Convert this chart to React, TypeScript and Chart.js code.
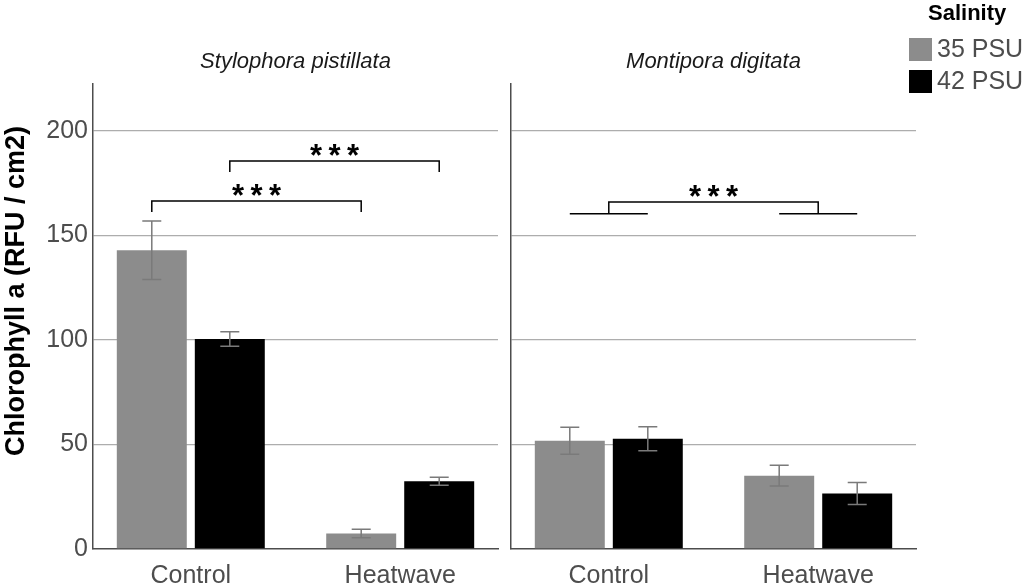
import React, { useEffect, useRef } from "react";
import { Chart, registerables } from "chart.js";

Chart.register(...registerables);

// Treatments on the x axis, salinity groups as series
const categories = ["Control", "Heatwave"];
const seriesNames = ["35 PSU", "42 PSU"];
const seriesColors = ["#8c8c8c", "#000000"];
const speciesNames = ["Stylophora pistillata", "Montipora digitata"];

// Chlorophyll a means (RFU / cm2) and standard errors
const stylo35 = [143, 7.4];
const stylo35Err = [14, 2];
const stylo42 = [100.5, 32.4];
const stylo42Err = [3.5, 1.9];
const monti35 = [51.8, 35.1];
const monti35Err = [6.5, 5];
const monti42 = [52.8, 26.6];
const monti42Err = [5.75, 5.25];

const yTicks = [0, 50, 100, 150, 200];
const yMax = 222.5;

// Significance brackets: pairwise (bar to bar) or between treatment groups
const styloBrackets = [
  { kind: "pair", from: [0, 0], to: [0, 1], top: 166.5, foot: 161.2, label: "***" },
  { kind: "pair", from: [1, 0], to: [1, 1], top: 185.6, foot: 180.4, label: "***" },
];
const montiBrackets = [
  { kind: "group", from: [0, 0], to: [0, 1], top: 166, foot: 160.4, label: "***" },
];

type Panel = {
  title: string;
  values: number[][];
  errors: number[][];
  brackets: typeof styloBrackets;
};

const panels: Panel[] = [
  { title: speciesNames[0], values: [stylo35, stylo42], errors: [stylo35Err, stylo42Err], brackets: styloBrackets },
  { title: speciesNames[1], values: [monti35, monti42], errors: [monti35Err, monti42Err], brackets: montiBrackets },
];

const FONT = "'Liberation Sans', Arial, Helvetica, sans-serif";
const TEXT_GREY = "#4d4d4d";
const AXIS_GREY = "#4d4d4d";
const GRID_GREY = "#adadad";
const ERR_GREY = "#7a7a7a";

function drawStars(ctx: CanvasRenderingContext2D, label: string, cx: number, cy: number) {
  ctx.save();
  ctx.fillStyle = "#000";
  ctx.font = `bold 31px ${FONT}`;
  ctx.textAlign = "center";
  ctx.textBaseline = "alphabetic";
  const m = ctx.measureText("*");
  const off = (m.actualBoundingBoxAscent - m.actualBoundingBoxDescent) / 2;
  const n = label.length;
  const gap = 18.5;
  for (let k = 0; k < n; k++) {
    const x = cx + (k - (n - 1) / 2) * gap;
    ctx.fillText("*", x, cy + off);
  }
  ctx.restore();
}

function makeOverlay(panel: Panel, index: number) {
  return {
    id: "overlay" + index,
    afterDatasetsDraw(chart: any) {
      const ctx: CanvasRenderingContext2D = chart.ctx;
      const y = chart.scales.y;
      ctx.save();
      // error bars
      ctx.strokeStyle = ERR_GREY;
      ctx.lineWidth = 1.5;
      panel.errors.forEach((errs, s) => {
        const meta = chart.getDatasetMeta(s);
        meta.data.forEach((bar: any, i: number) => {
          const v = panel.values[s][i];
          const e = errs[i];
          const x = bar.x;
          const yt = y.getPixelForValue(v + e);
          const yb = y.getPixelForValue(v - e);
          const hw = 9.5;
          ctx.beginPath();
          ctx.moveTo(x, yt);
          ctx.lineTo(x, yb);
          ctx.moveTo(x - hw, yt);
          ctx.lineTo(x + hw, yt);
          ctx.moveTo(x - hw, yb);
          ctx.lineTo(x + hw, yb);
          ctx.stroke();
        });
      });
      // significance brackets
      ctx.strokeStyle = "#000";
      ctx.lineWidth = 1.5;
      panel.brackets.forEach((b) => {
        const yTop = y.getPixelForValue(b.top);
        const yFoot = y.getPixelForValue(b.foot);
        let x1: number, x2: number;
        if (b.kind === "pair") {
          x1 = chart.getDatasetMeta(b.from[0]).data[b.from[1]].x;
          x2 = chart.getDatasetMeta(b.to[0]).data[b.to[1]].x;
        } else {
          const g = (i: number) => {
            const a = chart.getDatasetMeta(0).data[i].x;
            const c = chart.getDatasetMeta(1).data[i].x;
            return [a, c];
          };
          const [a1, c1] = g(b.from[1]);
          const [a2, c2] = g(b.to[1]);
          x1 = (a1 + c1) / 2;
          x2 = (a2 + c2) / 2;
          ctx.beginPath();
          ctx.moveTo(a1, yFoot);
          ctx.lineTo(c1, yFoot);
          ctx.moveTo(a2, yFoot);
          ctx.lineTo(c2, yFoot);
          ctx.stroke();
        }
        ctx.beginPath();
        ctx.moveTo(x1, yFoot);
        ctx.lineTo(x1, yTop);
        ctx.lineTo(x2, yTop);
        ctx.lineTo(x2, yFoot);
        ctx.stroke();
        drawStars(ctx, b.label, (x1 + x2) / 2, yTop - 11);
      });
      ctx.restore();
    },
    afterDraw(chart: any) {
      const ctx: CanvasRenderingContext2D = chart.ctx;
      const area = chart.chartArea;
      ctx.save();
      // facet title
      ctx.fillStyle = "#1a1a1a";
      ctx.font = `italic 22px ${FONT}`;
      ctx.textAlign = "center";
      ctx.textBaseline = "middle";
      ctx.fillText(panel.title, (area.left + area.right) / 2, 62);
      if (index === 0) {
        // y axis title
        ctx.save();
        ctx.translate(17, 291);
        ctx.rotate(-Math.PI / 2);
        ctx.font = `bold 27px ${FONT}`;
        ctx.fillStyle = "#000";
        ctx.textAlign = "center";
        ctx.textBaseline = "middle";
        ctx.fillText("Chlorophyll a (RFU / cm2)", 0, 0);
        ctx.restore();
      } else {
        // legend
        const lx = area.right - 7;
        ctx.fillStyle = "#000";
        ctx.font = `bold 22px ${FONT}`;
        ctx.textAlign = "left";
        ctx.textBaseline = "middle";
        ctx.fillText("Salinity", lx + 19, 14);
        seriesNames.forEach((name, s) => {
          const top = 38 + s * 32;
          ctx.fillStyle = seriesColors[s];
          ctx.fillRect(lx, top, 23, 23);
          ctx.fillStyle = TEXT_GREY;
          ctx.font = `25px ${FONT}`;
          ctx.fillText(name, lx + 28, top + 12);
        });
      }
      ctx.restore();
    },
  };
}

function PanelChart({ panel, index, left, width }: { panel: Panel; index: number; left: number; width: number }) {
  const ref = useRef<HTMLCanvasElement>(null);
  useEffect(() => {
    if (!ref.current) return;
    const first = index === 0;
    const chart = new Chart(ref.current, {
      type: "bar",
      data: {
        datasets: seriesNames.map((name, s) => ({
          label: name,
          data: categories.map((_, i) => ({ x: i + 1, y: panel.values[s][i] })),
          backgroundColor: seriesColors[s],
          borderWidth: 0,
          categoryPercentage: 0.745,
          barPercentage: 0.897,
        })),
      },
      options: {
        responsive: false,
        animation: false,
        layout: { padding: { top: 84, right: first ? 2 : 108, left: 0, bottom: 0 } },
        plugins: { legend: { display: false }, tooltip: { enabled: false }, title: { display: false } },
        scales: {
          x: {
            type: "linear",
            min: 0.533,
            max: 2.467,
            offset: false,
            afterBuildTicks: (scale: any) => {
              scale.ticks = categories.map((_, i) => ({ value: i + 1 }));
            },
            afterFit: (scale: any) => {
              scale.height = 35;
            },
            ticks: {
              callback: (v: any) => categories[Number(v) - 1] ?? "",
              font: { family: FONT, size: 25 },
              color: TEXT_GREY,
              padding: 12,
              maxRotation: 0,
              autoSkip: false,
            },
            grid: { display: false, drawTicks: false, offset: false },
            border: { display: true, color: AXIS_GREY, width: 1.5 },
          },
          y: {
            min: 0,
            max: yMax,
            afterBuildTicks: (scale: any) => {
              scale.ticks = yTicks.map((v) => ({ value: v }));
            },
            afterFit: (scale: any) => {
              scale.width = first ? 93 : 11;
            },
            ticks: {
              display: first,
              font: { family: FONT, size: 25 },
              color: TEXT_GREY,
              padding: 5,
            },
            grid: {
              drawTicks: false,
              lineWidth: 1.3,
              color: (c: any) => (c.tick && c.tick.value === 0 ? "rgba(0,0,0,0)" : GRID_GREY),
            },
            border: { display: true, color: AXIS_GREY, width: 1.5 },
          },
        },
      },
      plugins: [makeOverlay(panel, index)],
    } as any);
    return () => chart.destroy();
  }, [panel, index]);
  return (
    <canvas
      ref={ref}
      width={width}
      height={584}
      style={{ position: "absolute", left, top: 0, width, height: 584 }}
    />
  );
}

export default function App() {
  return (
    <div style={{ position: "absolute", left: 0, top: 0, width: 1024, height: 584, background: "#fff", overflow: "hidden" }}>
      <PanelChart panel={panels[0]} index={0} left={0} width={500} />
      <PanelChart panel={panels[1]} index={1} left={500} width={524} />
    </div>
  );
}
